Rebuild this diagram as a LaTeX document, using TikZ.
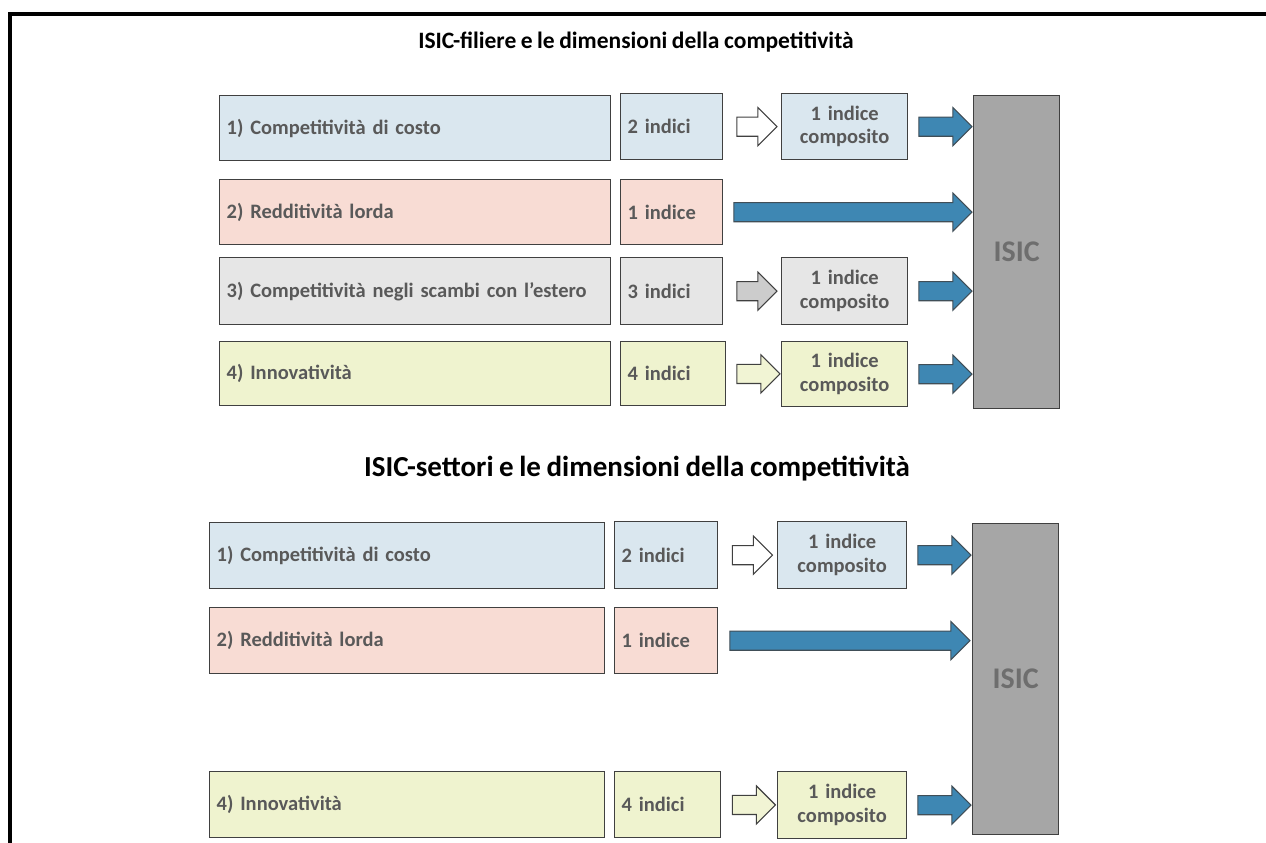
\documentclass[tikz,border=0pt]{standalone}
\usepackage{fontspec}
\setmainfont{Carlito}[WordSpace=0.85]
\usetikzlibrary{shapes.arrows,calc}
\definecolor{bordo}{HTML}{404040}
\definecolor{testo}{HTML}{595959}
\definecolor{azzurro}{HTML}{DAE7EF}
\definecolor{rosa}{HTML}{F8DCD4}
\definecolor{grigio}{HTML}{E6E6E6}
\definecolor{giallo}{HTML}{EFF3CF}
\definecolor{blu}{HTML}{3E87B3}
\definecolor{scuro}{HTML}{A6A6A6}
\definecolor{isictesto}{HTML}{6E6E6E}
\tikzset{
  titolo/.style={font=\fontsize{23.5}{26}\selectfont\bfseries},
  casella/.style={draw=bordo, line width=1.3pt, anchor=north west, inner xsep=7pt, inner ysep=0pt,
    text=testo, font=\fontsize{20.5}{24}\selectfont\bfseries, align=left},
  composto/.style={casella, align=center, font=\fontsize{20.5}{23.5}\selectfont\bfseries},
  isic/.style={draw=bordo, line width=1.3pt, fill=scuro, anchor=north west, text=isictesto,
    font=\fontsize{30}{30}\selectfont\bfseries},
  vuota/.style={single arrow, draw=bordo, line width=1.1pt, inner sep=9pt, single arrow head extend=9.5pt, anchor=center},
  piena/.style={vuota, fill=blu, draw=bordo!80!blu}
}

\begin{document}
\begin{tikzpicture}[x=1pt, y=-1pt]
\useasboundingbox (0,0) rectangle (1266,843);
\draw[line width=3.5pt] (1266,14) -- (10,14) -- (10,843);

\node[titolo] (t1) at (636,42) {ISIC-filiere e le dimensioni della competitività};

\node[casella, fill=azzurro, text width=377pt, minimum height=65pt] (a1) at (219,95) {1) Competitività di costo};
\node[casella, fill=rosa, text width=377pt, minimum height=65pt] (a2) at (219,179) {2) Redditività lorda};
\node[casella, fill=grigio, text width=377pt, minimum height=67pt] (a3) at (219,257) {3) Competitività negli scambi con l’estero};
\node[casella, fill=giallo, text width=377pt, minimum height=64pt] (a4) at (219,341) {4) Innovatività};

\node[casella, fill=azzurro, text width=88pt, minimum height=66pt] (i1) at (620,93) {2 indici};
\node[casella, fill=rosa, text width=88pt, minimum height=65pt] (i2) at (620,179) {1 indice};
\node[casella, fill=grigio, text width=88pt, minimum height=67pt] (i3) at (620,257) {3 indici};
\node[casella, fill=giallo, text width=91pt, minimum height=64pt] (i4) at (620,341) {4 indici};

\node[composto, fill=azzurro, text width=112pt, minimum height=66pt] (c1) at (781,93) {1 indice\\composito};
\node[composto, fill=grigio, text width=112pt, minimum height=67pt] (c3) at (781,257) {1 indice\\composito};
\node[composto, fill=giallo, text width=112pt, minimum height=65pt] (c4) at (781,341) {1 indice\\composito};

\node[isic, minimum width=86pt, minimum height=313pt] (s1) at (973,95) {ISIC};

\node[vuota, fill=white, minimum height=40pt] (v1) at ($(i1.east)!0.5!(c1.west)$) {};
\node[vuota, fill=black!20, minimum height=40pt] (v3) at ($(i3.east)!0.5!(c3.west)$) {};
\node[vuota, fill=giallo!90!white, minimum height=43pt] (v4) at ($(i4.east)!0.5!(c4.west)$) {};
\node[piena, minimum height=53pt] (p1) at ($(c1.east)!0.5!(c1.east -| s1.west)$) {};
\node[piena, minimum height=238pt] (p2) at ($(i2.east)!0.5!(i2.east -| s1.west)$) {};
\node[piena, minimum height=53pt] (p3) at ($(c3.east)!0.5!(c3.east -| s1.west)$) {};
\node[piena, minimum height=53pt] (p4) at ($(c4.east)!0.5!(c4.east -| s1.west)$) {};

\node[titolo, font=\fontsize{29}{32}\selectfont\bfseries] (t2) at (637,469) {ISIC-settori e le dimensioni della competitività};

\node[casella, fill=azzurro, text width=381pt, minimum height=66pt] (b1) at (209,522) {1) Competitività di costo};
\node[casella, fill=rosa, text width=381pt, minimum height=66pt] (b2) at (209,607) {2) Redditività lorda};
\node[casella, fill=giallo, text width=381pt, minimum height=66pt] (b4) at (209,771) {4) Innovatività};

\node[casella, fill=azzurro, text width=89pt, minimum height=67pt] (j1) at (614,521) {2 indici};
\node[casella, fill=rosa, text width=89pt, minimum height=66pt] (j2) at (614,607) {1 indice};
\node[casella, fill=giallo, text width=92pt, minimum height=66pt] (j4) at (614,771) {4 indici};

\node[composto, fill=azzurro, text width=115pt, minimum height=67pt] (d1) at (777,521) {1 indice\\composito};
\node[composto, fill=giallo, text width=115pt, minimum height=67pt] (d4) at (777,771) {1 indice\\composito};

\node[isic, minimum width=86pt, minimum height=311pt] (s2) at (972,523) {ISIC};

\node[vuota, fill=white, minimum height=40pt] (w1) at ($(j1.east)!0.5!(d1.west)$) {};
\node[vuota, fill=giallo!90!white, minimum height=43pt] (w4) at ($(j4.east)!0.5!(d4.west)$) {};
\node[piena, minimum height=53pt] (q1) at ($(d1.east)!0.5!(d1.east -| s2.west)$) {};
\node[piena, minimum height=240pt] (q2) at ($(j2.east)!0.5!(j2.east -| s2.west)$) {};
\node[piena, minimum height=53pt] (q4) at ($(d4.east)!0.5!(d4.east -| s2.west)$) {};
\end{tikzpicture}
\end{document}
